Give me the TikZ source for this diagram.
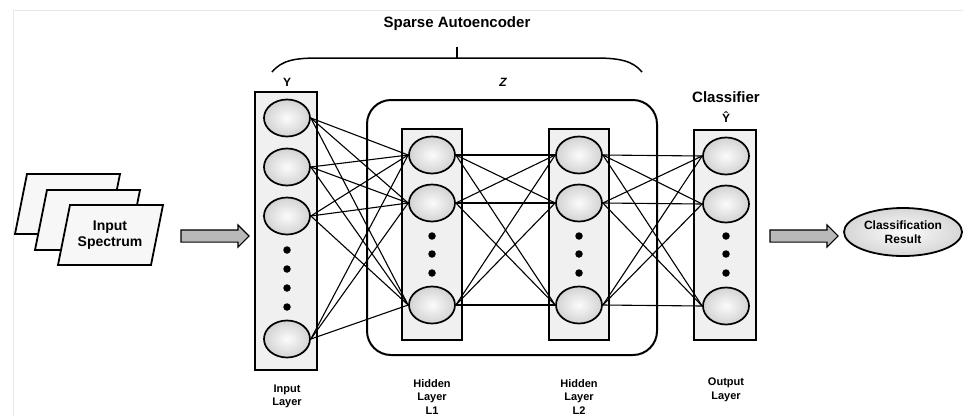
\documentclass[tikz,border=0pt]{standalone}
\usepackage{fontspec}
\setmainfont{Liberation Sans}
\usetikzlibrary{shapes.geometric,shapes.arrows}
\begin{document}
\begin{tikzpicture}[x=1pt,y=-1pt,
  layerbox/.style={draw,line width=2.2pt,fill=gray!12,inner sep=0},
  neuron/.style={ellipse,draw,line width=1.7pt,minimum width=46pt,minimum height=37pt,inner sep=0,inner color=gray!3,outer color=gray!35},
  dotmark/.style={circle,fill=black,minimum size=7.5pt,inner sep=0},
  link/.style={line width=1.1pt,black},
  lbl/.style={font=\bfseries\fontsize{11}{13.5}\selectfont,align=center},
  title/.style={font=\bfseries\fontsize{15}{17}\selectfont},
  marklbl/.style={font=\bfseries\fontsize{12}{13}\selectfont},
  sheet/.style={draw,line width=1.8pt,fill=gray!6,line join=miter},
  flow/.style={single arrow,draw,line width=1.1pt,fill=gray!55,minimum height=68pt,inner sep=5.5pt,single arrow head extend=5pt}
]
\path[use as bounding box] (0,0) rectangle (963,416);
% faint frame
\draw[gray!18,line width=0.8pt] (13,416) -- (13,10) -- (963,10);

% input spectrum sheets
\draw[sheet] (27,174) -- (120,174) -- (108,234) -- (15,234) -- cycle;
\draw[sheet] (47,190) -- (140,190) -- (128,250) -- (35,250) -- cycle;
\draw[sheet] (70,205) -- (163,205) -- (151,265) -- (58,265) -- cycle;
\node[font=\bfseries\fontsize{14}{16}\selectfont,align=center] (spec) at (110,235) {Input\\Spectrum};

% flow arrows
\node[flow] (arrA) at (212,236) {};
\node[flow] (arrB) at (801,236) {};

% brace over the autoencoder
\draw[line width=1.5pt] (272,72) .. controls (282,60) and (295,58) .. (320,58) -- (595,58) .. controls (620,58) and (633,61) .. (642,72);
\draw[line width=1.5pt] (457,47) -- (457,58);
\node[title] (sae) at (457,24) {Sparse Autoencoder};
\node[marklbl] (ylab) at (287,82) {Y};
\node[marklbl,font=\bfseries\itshape\fontsize{12}{13}\selectfont] (zlab) at (503,82) {Z};
\node[title] (clf) at (726,97) {Classifier};
\node[marklbl] (yhat) at (726,117) {Ŷ};

% hidden group frame
\node[draw,line width=2pt,rounded corners=24pt,minimum width=290pt,minimum height=255pt,inner sep=0] (zbox) at (512,227.5) {};

% layer boxes
\node[layerbox,minimum width=62pt,minimum height=278pt] (inbox) at (286,231) {};
\node[layerbox,minimum width=60pt,minimum height=211pt] (hbox1) at (432,234.5) {};
\node[layerbox,minimum width=60pt,minimum height=211pt] (hbox2) at (579,234.5) {};
\node[layerbox,minimum width=62pt,minimum height=210pt] (outbox) at (725,235) {};

% neurons
\foreach \n/\y in {1/118,2/167,3/216,4/339} \node[neuron] (i\n) at (287,\y) {};
\foreach \n/\y in {1/155,2/203,3/305} {
  \node[neuron] (a\n) at (432,\y) {};
  \node[neuron] (b\n) at (579,\y) {};
  \node[neuron] (o\n) at (726,\y+1) {};
}
\foreach \y in {250,269,288,307} \node[dotmark] at (287,\y) {};
\foreach \y in {236,254,273} {
  \node[dotmark] at (432,\y) {};
  \node[dotmark] at (579,\y) {};
  \node[dotmark] at (726,\y) {};
}

% connections
\foreach \s in {1,2,3,4} \foreach \t in {1,2,3} \draw[link] (i\s.east) -- (a\t.west);
\foreach \s in {1,2,3} \foreach \t in {1,2,3} {
  \draw[link] (a\s.east) -- (b\t.west);
  \draw[link] (b\s.east) -- (o\t.west);
}

% result
\node[ellipse,draw,line width=1.8pt,minimum width=118pt,minimum height=48pt,inner sep=0,inner color=gray!3,outer color=gray!32,font=\bfseries\fontsize{12}{13.5}\selectfont,align=center] (res) at (903,232) {Classification\\Result};

% layer captions
\node[lbl] (capI) at (287,396.5) {Input\\Layer};
\node[lbl] (capH1) at (432,397) {Hidden\\Layer\\L1};
\node[lbl] (capH2) at (579,397) {Hidden\\Layer\\L2};
\node[lbl] (capO) at (726,390) {Output\\Layer};
\end{tikzpicture}
\end{document}
